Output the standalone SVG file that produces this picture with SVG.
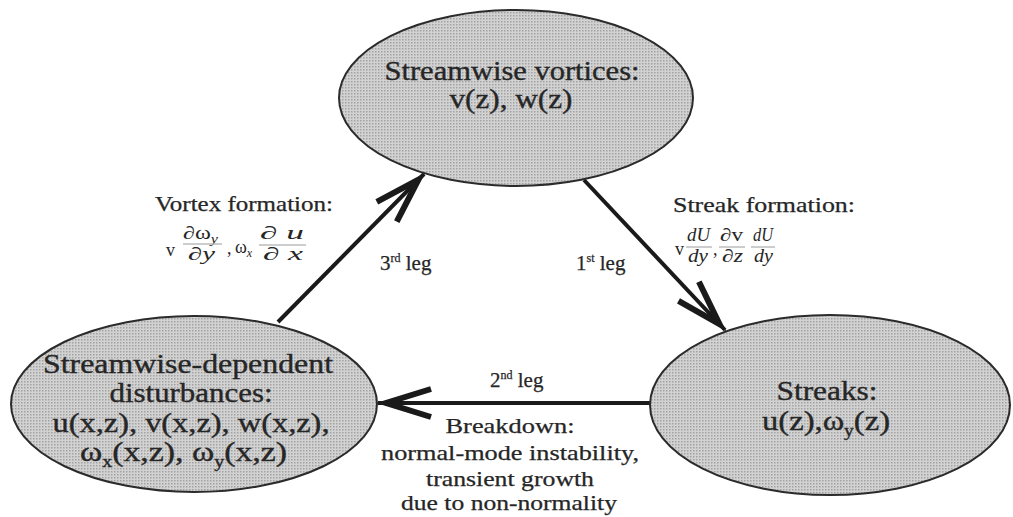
<svg xmlns="http://www.w3.org/2000/svg" width="1013" height="517" viewBox="0 0 1013 517">
  <style>
    .t { font-family: "Liberation Serif", "Times New Roman", serif; fill: #262626; }
    .big { font-size: 27px; stroke: #262626; stroke-width: 0.35; }
    .mid { font-size: 21px; stroke: #262626; stroke-width: 0.25; }
    .m { font-size: 18px; }
    .it { font-style: italic; }
    .node { fill: url(#dots); stroke: #2b2b2b; stroke-width: 2; }
    .conn { stroke: #1a1a1a; stroke-width: 4; fill: none; }
    .bar { stroke: #9a9a9a; stroke-width: 1; }
  </style>
  <defs>
    <pattern id="dots" width="3" height="3" patternUnits="userSpaceOnUse">
      <rect width="3" height="3" fill="#d2d2d2"/>
      <rect width="1.5" height="1.5" fill="#a2a2a2"/>
    </pattern>
    <marker id="arr" markerUnits="userSpaceOnUse" viewBox="-52 -22 62 44" markerWidth="62" markerHeight="44" refX="8" refY="0" orient="auto">
      <path d="M-45,-14 L0,0 L-45,14" fill="none" stroke="#1a1a1a" stroke-width="6" stroke-linejoin="miter"/>
    </marker>
  </defs>
  <rect width="1013" height="517" fill="#ffffff"/>

  <g id="connectors">
    <line class="conn" x1="278" y1="322" x2="424" y2="174" marker-end="url(#arr)"/>
    <line class="conn" x1="584" y1="180" x2="725" y2="330" marker-end="url(#arr)"/>
    <line class="conn" x1="651" y1="403" x2="378" y2="403" marker-end="url(#arr)"/>
  </g>

  <g id="node-vortices">
    <ellipse class="node" cx="516" cy="98" rx="177" ry="88"/>
    <text class="t big" x="512" y="80" text-anchor="middle" textLength="255" lengthAdjust="spacingAndGlyphs">Streamwise vortices:</text>
    <text class="t big" x="511" y="108" text-anchor="middle" textLength="123" lengthAdjust="spacingAndGlyphs">v(z), w(z)</text>
  </g>

  <g id="node-disturbances">
    <ellipse class="node" cx="194" cy="404" rx="183" ry="88"/>
    <text class="t big" x="188" y="373" text-anchor="middle" textLength="290" lengthAdjust="spacingAndGlyphs">Streamwise-dependent</text>
    <text class="t big" x="191" y="402" text-anchor="middle" textLength="163" lengthAdjust="spacingAndGlyphs">disturbances:</text>
    <text class="t big" x="191" y="432" text-anchor="middle" textLength="277" lengthAdjust="spacingAndGlyphs">u(x,z), v(x,z), w(x,z),</text>
    <text class="t big" x="80" y="461" textLength="207" lengthAdjust="spacingAndGlyphs">ω<tspan font-size="16" dy="6">x</tspan><tspan dy="-6">(x,z), ω</tspan><tspan font-size="16" dy="6">y</tspan><tspan dy="-6">(x,z)</tspan></text>
  </g>

  <g id="node-streaks">
    <ellipse class="node" cx="830" cy="405" rx="180" ry="90"/>
    <text class="t big" x="827" y="400" text-anchor="middle" textLength="101" lengthAdjust="spacingAndGlyphs">Streaks:</text>
    <text class="t big" x="762" y="430" textLength="128" lengthAdjust="spacingAndGlyphs">u(z),ω<tspan font-size="16" dy="6">y</tspan><tspan dy="-6">(z)</tspan></text>
  </g>

  <g id="label-vortex-formation">
    <text class="t mid" x="155" y="211" textLength="178" lengthAdjust="spacingAndGlyphs">Vortex formation:</text>
    <text class="t m" x="166" y="256">v</text>
    <text class="t m" x="183" y="239" textLength="35" lengthAdjust="spacingAndGlyphs">∂ω<tspan font-size="12" dy="4" class="it">y</tspan></text>
    <line class="bar" x1="183" y1="244" x2="222" y2="244"/>
    <text class="t m" x="188" y="260" textLength="27" lengthAdjust="spacingAndGlyphs">∂<tspan class="it">y</tspan></text>
    <text class="t m" x="227" y="254">,</text>
    <text class="t m" x="235" y="253">ω<tspan font-size="12" dy="4" class="it">x</tspan></text>
    <text class="t m" x="260" y="239" textLength="44" lengthAdjust="spacingAndGlyphs">∂ <tspan class="it">u</tspan></text>
    <line class="bar" x1="259" y1="245" x2="306" y2="245"/>
    <text class="t m" x="263" y="260" textLength="40" lengthAdjust="spacingAndGlyphs">∂ <tspan class="it">x</tspan></text>
  </g>

  <g id="label-streak-formation">
    <text class="t mid" x="673" y="212" textLength="182" lengthAdjust="spacingAndGlyphs">Streak formation:</text>
    <text class="t m" x="675" y="255">v</text>
    <text class="t m it" x="687" y="241" textLength="23" lengthAdjust="spacingAndGlyphs">dU</text>
    <line class="bar" x1="686" y1="247" x2="712" y2="247"/>
    <text class="t m it" x="688" y="262" textLength="20" lengthAdjust="spacingAndGlyphs">dy</text>
    <text class="t m" x="713" y="255">,</text>
    <text class="t m" x="720" y="241" textLength="23" lengthAdjust="spacingAndGlyphs">∂v</text>
    <line class="bar" x1="719" y1="247" x2="745" y2="247"/>
    <text class="t m" x="722" y="262" textLength="21" lengthAdjust="spacingAndGlyphs">∂<tspan class="it">z</tspan></text>
    <text class="t m it" x="753" y="241" textLength="20" lengthAdjust="spacingAndGlyphs">dU</text>
    <line class="bar" x1="751" y1="247" x2="775" y2="247"/>
    <text class="t m it" x="754" y="262" textLength="19" lengthAdjust="spacingAndGlyphs">dy</text>
  </g>

  <g id="label-legs">
    <text class="t mid" x="380" y="270">3<tspan font-size="12" dy="-8">rd</tspan><tspan dy="8"> leg</tspan></text>
    <text class="t mid" x="576" y="270">1<tspan font-size="12" dy="-8">st</tspan><tspan dy="8"> leg</tspan></text>
    <text class="t mid" x="490" y="387">2<tspan font-size="12" dy="-8">nd</tspan><tspan dy="8"> leg</tspan></text>
  </g>

  <g id="label-breakdown">
    <text class="t mid" x="510" y="433" text-anchor="middle" textLength="129" lengthAdjust="spacingAndGlyphs">Breakdown:</text>
    <text class="t mid" x="510" y="460" text-anchor="middle" textLength="258" lengthAdjust="spacingAndGlyphs">normal-mode instability,</text>
    <text class="t mid" x="510" y="486" text-anchor="middle" textLength="168" lengthAdjust="spacingAndGlyphs">transient growth</text>
    <text class="t mid" x="509" y="510" text-anchor="middle" textLength="216" lengthAdjust="spacingAndGlyphs">due to non-normality</text>
  </g>
</svg>
